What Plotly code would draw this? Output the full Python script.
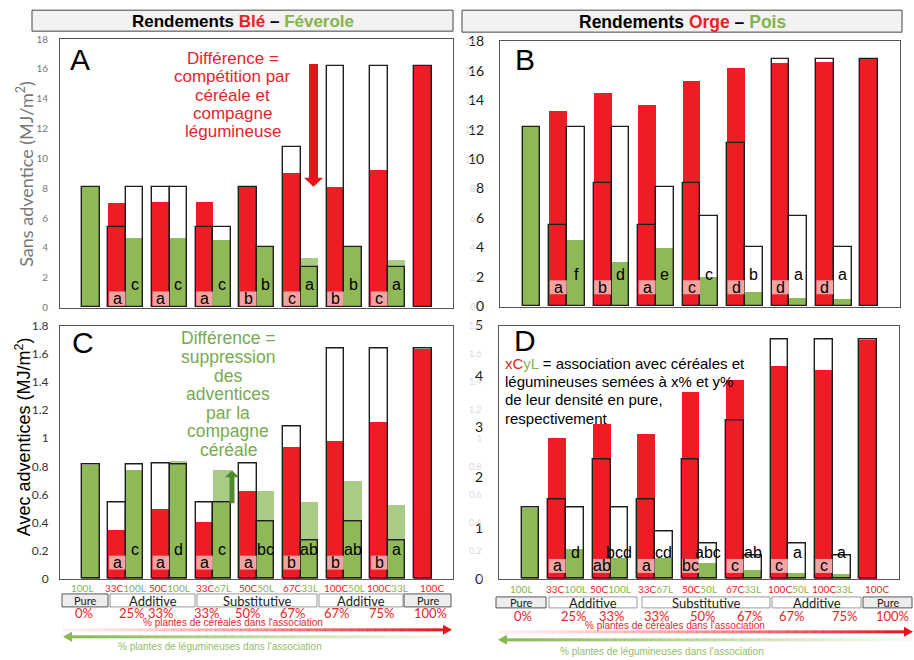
import plotly.graph_objects as go

W, H = 914, 660
PAGE_H = 676  # rendered page height including the body margins


def px(x):
    return x / W


def py(y):
    # pixel row on the final page -> paper coordinate
    return 1 - (y * PAGE_H / H - 8) / H


RED = "#EE1C25"
GREEN = "#8FB956"
GREEN_LIGHT = "#AACB86"
PINK = "#F4A3A3"
EDGE = "#1E1E1E"
SANS = "Liberation Sans, Arial, sans-serif"
SOFT = "Lato, sans-serif"

# ---------------------------------------------------------------- data
categories = ["100L", "33C100L", "50C100L", "33C67L", "50C50L",
              "67C33L", "100C50L", "100C33L", "100C"]
cereal_part = ["", "33C", "50C", "33C", "50C", "67C", "100C", "100C", "100C"]
legume_part = ["100L", "100L", "100L", "67L", "50L", "33L", "50L", "33L", ""]
cereal_pct = ["0%", "25%", "33%", "33%", "50%", "67%", "67%", "75%", "100%"]
designs = ["Pure", "Additive", "Substitutive", "Additive", "Pure"]

# A : wheat - faba bean, weed-free
a_cer_obs = [None, 7.0, 7.05, 7.1, 8.1, 9.0, 8.1, 9.2, 16.2]
a_cer_exp = [None, 5.4, 8.1, 5.4, 8.1, 10.75, 16.2, 16.2, 16.2]
a_leg_obs = [8.1, 4.65, 4.65, 4.55, 4.05, 3.3, 4.05, 3.15, None]
a_leg_exp = [8.1, 8.1, 8.1, 5.4, 4.05, 2.7, 4.05, 2.7, None]
a_cer_let = ["", "a", "a", "a", "b", "c", "b", "c", ""]
a_leg_let = ["", "c", "c", "c", "b", "a", "b", "a", ""]

# B : barley - pea, weed-free
b_cer_obs = [None, 13.25, 14.5, 13.65, 15.3, 16.2, 16.5, 16.55, 16.8]
b_cer_exp = [None, 5.55, 8.4, 5.55, 8.4, 11.1, 16.8, 16.8, 16.8]
b_leg_obs = [12.2, 4.5, 3.0, 3.95, 2.0, 0.95, 0.55, 0.5, None]
b_leg_exp = [12.2, 12.2, 12.2, 8.1, 6.1, 4.05, 6.1, 4.05, None]
b_cer_let = ["", "a", "b", "a", "c", "d", "d", "d", ""]
b_leg_let = ["", "f", "d", "e", "c", "b", "a", "a", ""]

# C : wheat - faba bean, with weeds
c_cer_obs = [None, 0.35, 0.5, 0.41, 0.63, 0.94, 0.98, 1.12, 1.64]
c_cer_exp = [None, 0.54, 0.82, 0.54, 0.82, 1.08, 1.64, 1.64, 1.64]
c_leg_obs = [0.81, 0.78, 0.84, 0.78, 0.63, 0.55, 0.70, 0.53, None]
c_leg_exp = [0.81, 0.81, 0.81, 0.54, 0.41, 0.27, 0.41, 0.27, None]
c_cer_let = ["", "a", "a", "a", "a", "b", "b", "b", ""]
c_leg_let = ["", "c", "d", "c", "bc", "ab", "ab", "a", ""]

# D : barley - pea, with weeds
d_cer_obs = [None, 2.8, 3.07, 2.87, 3.7, 3.93, 4.22, 4.14, 4.73]
d_cer_exp = [None, 1.56, 2.36, 1.56, 2.36, 3.12, 4.73, 4.73, 4.73]
d_leg_obs = [1.4, 0.6, 0.42, 0.42, 0.32, 0.18, 0.12, 0.1, None]
d_leg_exp = [1.4, 1.4, 1.4, 0.93, 0.7, 0.47, 0.7, 0.47, None]
d_cer_let = ["", "a", "ab", "a", "bc", "c", "c", "c", ""]
d_leg_let = ["", "d", "bcd", "cd", "abc", "ab", "a", "a", ""]

fig = go.Figure()
annotations = []
shapes = []


def note(x, y, text, size, color, family=SANS, **kw):
    """Text placed in page pixels (origin top-left)."""
    d = dict(x=px(x), y=py(y), xref="paper", yref="paper", text=text,
             showarrow=False, xanchor="center", yanchor="middle",
             font=dict(size=size, color=color, family=family))
    d.update(kw)
    annotations.append(d)


def refs(n):
    return ("x", "y") if n == 1 else (f"x{n}", f"y{n}")


def add_panel(n, cer_obs, cer_exp, leg_obs, leg_exp):
    xa, ya = refs(n)
    idx = list(range(len(categories)))
    xc = [i - 0.2 for i in idx]
    xl = [i + 0.2 for i in idx]
    common = dict(width=0.4, xaxis=xa, yaxis=ya, showlegend=False,
                  hoverinfo="skip", opacity=1)
    leg_core = [None if (o is None or e is None) else min(o, e)
                for o, e in zip(leg_obs, leg_exp)]
    # white background of the expected bars
    fig.add_bar(x=xc, y=cer_exp, marker=dict(color="white", line=dict(width=0)), **common)
    fig.add_bar(x=xl, y=leg_exp, marker=dict(color="white", line=dict(width=0)), **common)
    # observed yields
    fig.add_bar(x=xc, y=cer_obs, marker=dict(color=RED, line=dict(width=0)), **common)
    fig.add_bar(x=xl, y=leg_obs, marker=dict(color=GREEN_LIGHT, line=dict(width=0)), **common)
    fig.add_bar(x=xl, y=leg_core, marker=dict(color=GREEN, line=dict(width=0)), **common)
    # outlines of the expected yields
    fig.add_bar(x=xc, y=cer_exp, marker=dict(color="rgba(0,0,0,0)",
                line=dict(color=EDGE, width=1.4)), **common)
    fig.add_bar(x=xl, y=leg_exp, marker=dict(color="rgba(0,0,0,0)",
                line=dict(color=EDGE, width=1.4)), **common)


def add_letters(n, cer_let, leg_let, y_box, box_h, y_leg, size=16):
    xa, ya = refs(n)
    for i, (lc, ll) in enumerate(zip(cer_let, leg_let)):
        if lc:
            shapes.append(dict(type="rect", xref=xa, yref=ya, layer="above",
                               x0=i - 0.39, x1=i - 0.01,
                               y0=y_box - box_h / 2, y1=y_box + box_h / 2,
                               fillcolor=PINK, line=dict(width=0)))
            annotations.append(dict(x=i - 0.2, y=y_box, xref=xa, yref=ya, text=lc,
                                    xanchor="center", yanchor="middle",
                                    font=dict(size=size, color="black", family=SANS),
                                    showarrow=False))
        if ll:
            annotations.append(dict(x=i + 0.2, y=y_leg, xref=xa, yref=ya, text=ll,
                                    xanchor="center", yanchor="middle",
                                    font=dict(size=size, color="black", family=SANS),
                                    showarrow=False))


add_panel(1, a_cer_obs, a_cer_exp, a_leg_obs, a_leg_exp)
add_panel(2, b_cer_obs, b_cer_exp, b_leg_obs, b_leg_exp)
add_panel(3, c_cer_obs, c_cer_exp, c_leg_obs, c_leg_exp)
add_panel(4, d_cer_obs, d_cer_exp, d_leg_obs, d_leg_exp)

add_letters(1, a_cer_let, a_leg_let, 0.6, 0.95, 1.57)
add_letters(2, b_cer_let, b_leg_let, 1.31, 0.95, 2.2)
add_letters(3, c_cer_let, c_leg_let, 0.116, 0.099, 0.21)
add_letters(4, d_cer_let, d_leg_let, 0.257, 0.276, 0.53)

# ---------------------------------------------------------------- axes
XR = [-0.51, 8.49]


def xaxis(x0, x1, anchor):
    return dict(domain=[px(x0), px(x1)], range=XR, anchor=anchor,
                showticklabels=False, ticks="", showgrid=False, zeroline=False,
                showline=True, mirror=True, linecolor="#555", linewidth=1)


def yaxis(y0, y1, anchor, rng, dtick, font, standoff):
    return dict(domain=[py(y1), py(y0)], range=rng, dtick=dtick, anchor=anchor,
                tickfont=font, ticks="", showgrid=False, zeroline=False,
                showline=True, mirror=True, linecolor="#555", linewidth=1,
                ticklabelstandoff=standoff)


fig.update_layout(
    xaxis=xaxis(60, 453, "y"),
    yaxis=yaxis(38, 307, "x", [0, 18], 2, dict(size=10, color="#777", family=SOFT), 9),
    xaxis2=xaxis(500, 900, "y2"),
    yaxis2=yaxis(40, 306, "x2", [0, 18], 2, dict(size=14, color="#1a1a1a", family=SOFT), 12),
    xaxis3=xaxis(60, 453, "y3"),
    yaxis3=yaxis(325, 579, "x3", [0, 1.8], 0.2, dict(size=12, color="#333", family=SOFT), 8),
    xaxis4=xaxis(499, 899, "y4"),
    yaxis4=yaxis(325, 579, "x4", [0, 5], 1, dict(size=14, color="#1a1a1a", family=SOFT), 12),
)

# faint leftover tick labels beside the right-hand panels
for k in range(10):
    note(477, 306 - k * 266 / 9, str(2 * k), 9, "#dadada", SOFT, xanchor="right")
    val = 0.2 * k
    lab = "0" if k == 0 else ("1" if k == 5 else f"{val:.1f}")
    note(484, 579 - k * 254 / 9, lab, 9, "#dadada", SOFT, xanchor="right")

# ---------------------------------------------------------------- titles
for (x0, x1, y0, y1, cer, leg, cx, fs) in [
        (32, 453, 9, 30, "Blé", "Féverole", 243, 17),
        (462, 902, 9, 31, "Orge", "Pois", 682, 17.5)]:
    shapes.append(dict(type="rect", xref="paper", yref="paper",
                       x0=px(x0), x1=px(x1), y0=py(y1), y1=py(y0),
                       fillcolor="#F2F2F2", line=dict(color="#444", width=1)))
    note(cx, (y0 + y1) / 2 + 0.5,
         (f"<b>Rendements <span style='color:{RED}'>{cer}</span> – "
          f"<span style='color:#86B34E'>{leg}</span></b>"), fs, "black")

for letter, x, y in [("A", 68, 58), ("B", 513, 58), ("C", 70, 342), ("D", 512, 340)]:
    note(x, y, letter, 30, "black", xanchor="left")

note(25, 173, "Sans adventice (MJ/m<sup>2</sup>)", 18, "#777", SOFT, textangle=-90)
note(23, 437, "Avec adventices (MJ/m<sup>2</sup>)", 18, "black", textangle=-90)

# explanatory notes
note_a = ["Différence =", "compétition par", "céréale et", "compagne", "légumineuse"]
for k, line in enumerate(note_a):
    note(233, 57 + k * 18.5, line, 17, "#E3262B")
note_c = ["Différence =", "suppression", "des", "adventices", "par la", "compagne", "céréale"]
for k, line in enumerate(note_c):
    note(228, 338 + k * 18.6, line, 17.5, "#78AA4E")
note_d = [(f"<span style='color:{RED}'>xC</span><span style='color:#86B34E'>yL</span>"
           " = association avec céréales et"),
          "légumineuses semées à x% et y%",
          "de leur densité en pure,",
          "respectivement"]
for k, line in enumerate(note_d):
    note(503, 363 + k * 18.3, line, 15, "black", xanchor="left")


def poly(points, color):
    path = "M " + " L ".join(f"{px(x):.5f},{py(y):.5f}" for x, y in points) + " Z"
    shapes.append(dict(type="path", xref="paper", yref="paper", path=path,
                       fillcolor=color, line=dict(width=0)))


# big red arrow (panel A) and green arrow (panel C)
poly([(309, 63), (318, 63), (318, 177), (323, 177), (313.5, 186), (304, 177), (309, 177)], "#E8141B")
poly([(229.5, 503), (234.5, 503), (234.5, 477), (239, 477), (232, 470), (225, 477), (229.5, 477)], "#4F8A31")

# ---------------------------------------------------------------- bottom legend


def gradient_arrow(x0, x1, y, rgb, to_right, n=45):
    head = 9
    if to_right:
        a, b = x0, x1 - head
    else:
        a, b = x0 + head, x1
    for k in range(n):
        s0 = a + (b - a) * k / n
        s1 = a + (b - a) * (k + 1) / n + 0.5
        t = (k + 0.5) / n
        alpha = (t ** 1.3) if to_right else ((1 - t) ** 1.1)
        alpha = 0.06 + 0.94 * alpha
        shapes.append(dict(type="line", xref="paper", yref="paper",
                           x0=px(s0), x1=px(s1), y0=py(y), y1=py(y),
                           line=dict(color=f"rgba({rgb},{alpha:.3f})", width=3)))
    if to_right:
        poly([(x1 - head, y - 5), (x1, y), (x1 - head, y + 5)], f"rgb({rgb})")
    else:
        poly([(x0 + head, y - 5), (x0, y), (x0 + head, y + 5)], f"rgb({rgb})")


def bottom(xref, label_y, boxes, box_y0, box_y1, pct_x, pct_y,
           red_txt, red_arrow, green_arrow, green_txt):
    for i, (c, l) in enumerate(zip(cereal_part, legume_part)):
        parts = []
        if c:
            parts.append(f"<span style='color:{RED}'>{c}</span>")
        if l:
            parts.append(f"<span style='color:#86B34E'>{l}</span>")
        annotations.append(dict(
            x=i, y=py(label_y), xref=xref, yref="paper", showarrow=False,
            xanchor="center", yanchor="middle", text="".join(parts),
            font=dict(size=10, family=SOFT)))
    for (x0, x1), name in zip(boxes, designs):
        pure = name == "Pure"
        shapes.append(dict(type="rect", xref="paper", yref="paper",
                           x0=px(x0), x1=px(x1), y0=py(box_y1), y1=py(box_y0),
                           fillcolor="#EDEDED" if pure else "white",
                           line=dict(color="#555" if pure else "#999", width=1)))
        note((x0 + x1) / 2, (box_y0 + box_y1) / 2 + 0.5, name,
             11 if pure else 13, "#222", SOFT)
    for x, t in zip(pct_x, cereal_pct):
        note(x, pct_y, t, 13, "#E3262B", SOFT)
    note(red_txt[0], red_txt[1], "% plantes de céréales dans l'association", 10, "#E3262B")
    gradient_arrow(*red_arrow, "232,20,27", True)
    gradient_arrow(*green_arrow, "134,185,78", False)
    note(green_txt[0], green_txt[1], "% plantes de légumineuses dans l'association",
         10, "#93BD68")


bottom("x3", 588,
       [(62, 108), (110, 195), (197, 317), (319, 403), (404, 451)], 594, 607,
       [84, 132, 161, 207, 248, 293, 337, 382, 430], 613,
       (233, 623), (63, 452, 630), (63, 452, 637), (220, 647))
bottom("x4", 589,
       [(496, 546), (549, 637), (642, 770), (772, 861), (863, 912)], 597, 608,
       [523, 574, 612, 657, 703, 750, 792, 845, 892], 616,
       (675, 626), (498, 913, 632), (498, 912, 640), (662, 652))

fig.update_layout(
    width=W, height=H, margin=dict(l=0, r=0, t=0, b=0),
    paper_bgcolor="white", plot_bgcolor="white",
    barmode="overlay", bargap=0,
    annotations=annotations, shapes=shapes,
    font=dict(family=SANS),
)

fig.write_html("out.html")
